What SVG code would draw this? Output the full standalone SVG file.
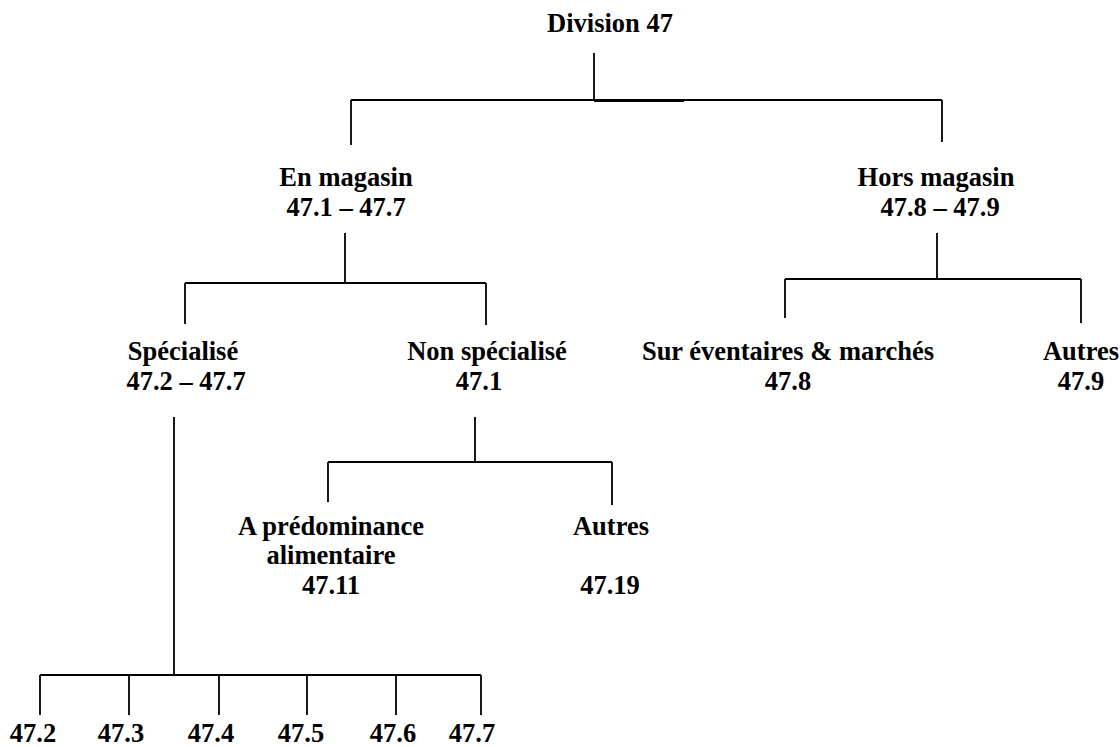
<svg xmlns="http://www.w3.org/2000/svg" width="1120" height="747" viewBox="0 0 1120 747">
<style>
text{font-family:"Liberation Serif","Times New Roman",serif;font-weight:bold;font-size:26.5px;fill:#000;text-anchor:middle}
.c line{stroke:#000;stroke-width:1.8;fill:none}
</style>
<rect width="1120" height="747" fill="#fff"/>
<g id="connectors" class="c">
<line x1="594" y1="53" x2="594" y2="100"/>
<line x1="351" y1="100" x2="942" y2="100"/>
<line x1="594" y1="100.8" x2="684" y2="100.8" style="stroke-width:2.4"/>
<line x1="351" y1="100" x2="351" y2="145"/>
<line x1="942" y1="100" x2="942" y2="142"/>
<line x1="345" y1="233" x2="345" y2="283"/>
<line x1="185" y1="283" x2="486" y2="283"/>
<line x1="185" y1="283" x2="185" y2="324"/>
<line x1="486" y1="283" x2="486" y2="325"/>
<line x1="937" y1="233" x2="937" y2="279"/>
<line x1="785" y1="279" x2="1081" y2="279"/>
<line x1="785" y1="279" x2="785" y2="318"/>
<line x1="1081" y1="279" x2="1081" y2="323"/>
<line x1="174" y1="417" x2="174" y2="675"/>
<line x1="40" y1="675" x2="481" y2="675"/>
<line x1="40" y1="675" x2="40" y2="715"/>
<line x1="129" y1="675" x2="129" y2="715"/>
<line x1="219" y1="675" x2="219" y2="715"/>
<line x1="307" y1="675" x2="307" y2="715"/>
<line x1="396" y1="675" x2="396" y2="715"/>
<line x1="481" y1="675" x2="481" y2="715"/>
<line x1="475" y1="417" x2="475" y2="462"/>
<line x1="328" y1="462" x2="612" y2="462"/>
<line x1="328" y1="462" x2="328" y2="502"/>
<line x1="612" y1="462" x2="612" y2="505"/>
</g>
<g id="division"><text x="610" y="32">Division 47</text></g>
<g id="en-magasin"><text x="346" y="186">En magasin</text><text x="346" y="216">47.1 – 47.7</text></g>
<g id="hors-magasin"><text x="936" y="186">Hors magasin</text><text x="940" y="216">47.8 – 47.9</text></g>
<g id="specialise"><text x="183" y="360">Spécialisé</text><text x="186" y="390">47.2 – 47.7</text></g>
<g id="non-specialise"><text x="487" y="360">Non spécialisé</text><text x="479" y="390">47.1</text></g>
<g id="eventaires"><text x="788" y="360">Sur éventaires &amp; marchés</text><text x="788" y="390">47.8</text></g>
<g id="autres-hors"><text x="1081" y="360">Autres</text><text x="1081" y="390">47.9</text></g>
<g id="alimentaire"><text x="331" y="535">A prédominance</text><text x="331" y="564">alimentaire</text><text x="331" y="594">47.11</text></g>
<g id="autres-non"><text x="611" y="535">Autres</text><text x="610" y="594">47.19</text></g>
<g id="n472"><text x="33" y="742">47.2</text></g>
<g id="n473"><text x="121" y="742">47.3</text></g>
<g id="n474"><text x="211" y="742">47.4</text></g>
<g id="n475"><text x="301" y="742">47.5</text></g>
<g id="n476"><text x="393" y="742">47.6</text></g>
<g id="n477"><text x="472" y="742">47.7</text></g>
</svg>
